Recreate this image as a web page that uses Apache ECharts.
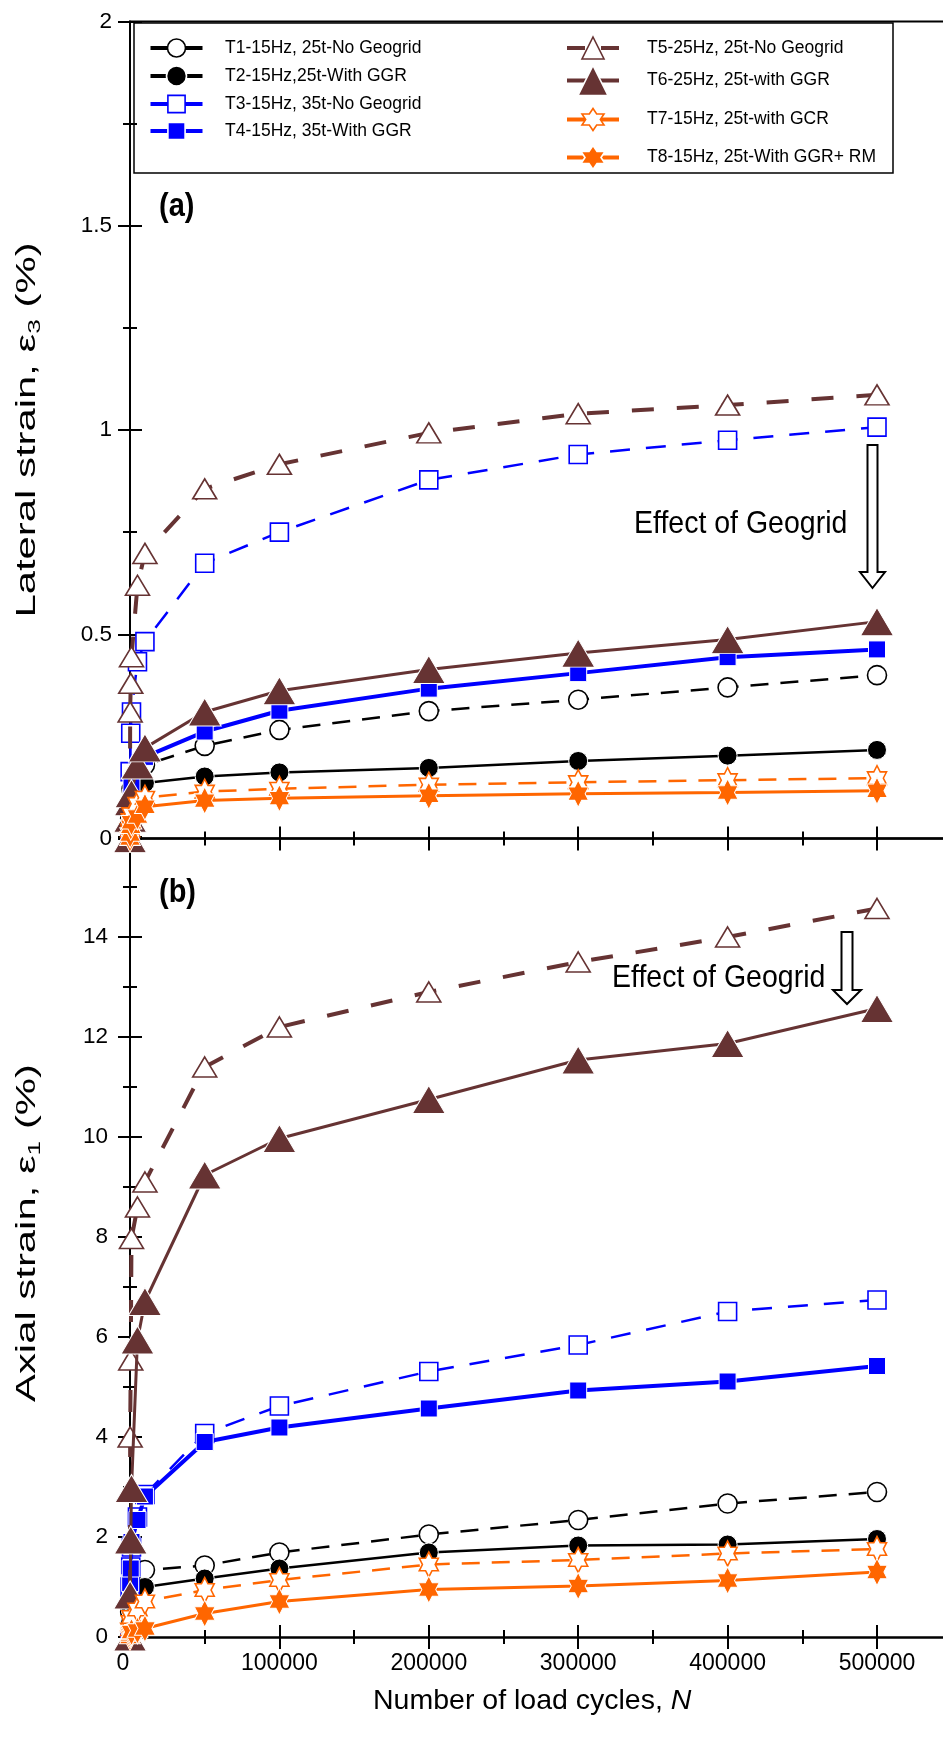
<!DOCTYPE html>
<html>
<head>
<meta charset="utf-8">
<script src="https://cdn.jsdelivr.net/npm/echarts@6/dist/echarts.min.js"></script>
<style>
  html, body { margin: 0; padding: 0; background: #ffffff; overflow: hidden; }
  /* the x axis runs on past the right edge of the page */
  #chart { width: 1100px; height: 1749px; }
</style>
</head>
<body>
<div id="chart"></div>
<script>
// Number of load cycles at which strains were recorded
const cycles = [0, 100, 500, 1000, 5000, 10000, 50000, 100000, 200000, 300000, 400000, 500000];

// Lateral strain, eps3 (%)
const latT1 = [0, 0.05, 0.09, 0.12, 0.16, 0.18, 0.227, 0.266, 0.312, 0.34, 0.37, 0.40];
const latT2 = [0, 0.04, 0.07, 0.09, 0.12, 0.136, 0.152, 0.162, 0.173, 0.19, 0.203, 0.217];
const latT3 = [0, 0.164, 0.258, 0.31, 0.433, 0.482, 0.674, 0.75, 0.878, 0.94, 0.975, 1.007];
const latT4 = [0, 0.06, 0.10, 0.13, 0.17, 0.20, 0.262, 0.313, 0.367, 0.405, 0.444, 0.463];
const latT5 = [0, 0.31, 0.38, 0.445, 0.62, 0.698, 0.856, 0.916, 0.993, 1.04, 1.061, 1.086];
const latT6 = [0, 0.05, 0.09, 0.11, 0.18, 0.222, 0.31, 0.362, 0.414, 0.454, 0.487, 0.531];
const latT7 = [0, 0.02, 0.045, 0.06, 0.085, 0.10, 0.115, 0.122, 0.132, 0.138, 0.143, 0.148];
const latT8 = [0, 0.01, 0.029, 0.04, 0.054, 0.078, 0.093, 0.099, 0.105, 0.11, 0.113, 0.117];

// Axial strain, eps1 (%)
const axT1 = [0, 0.5, 0.8, 1.0, 1.2, 1.34, 1.43, 1.69, 2.05, 2.34, 2.67, 2.9];
const axT2 = [0, 0.3, 0.55, 0.7, 0.85, 1.0, 1.17, 1.37, 1.69, 1.83, 1.85, 1.96];
const axT3 = [0, 1.0, 1.4, 1.8, 2.4, 2.85, 4.07, 4.62, 5.31, 5.84, 6.51, 6.74];
const axT4 = [0, 1.08, 1.37, 1.9, 2.34, 2.81, 3.9, 4.19, 4.57, 4.93, 5.11, 5.42];
const axT5 = [0, 4.0, 5.54, 7.97, 8.6, 9.1, 11.4, 12.2, 12.9, 13.5, 14.0, 14.57];
const axT6 = [0, 0.84, 1.94, 2.97, 5.94, 6.71, 9.24, 9.97, 10.75, 11.54, 11.87, 12.57];
const axT7 = [0, 0.15, 0.3, 0.4, 0.55, 0.71, 0.94, 1.14, 1.45, 1.54, 1.67, 1.76];
const axT8 = [0, 0.05, 0.08, 0.1, 0.13, 0.17, 0.47, 0.71, 0.95, 1.02, 1.13, 1.3];

const testNames = [
  'T1-15Hz, 25t-No Geogrid',
  'T2-15Hz,25t-With GGR',
  'T3-15Hz, 35t-No Geogrid',
  'T4-15Hz, 35t-With GGR',
  'T5-25Hz, 25t-No Geogrid',
  'T6-25Hz, 25t-with GGR',
  'T7-15Hz, 25t-with GCR',
  'T8-15Hz, 25t-With GGR+ RM'
];

const lateral = [latT1, latT2, latT3, latT4, latT5, latT6, latT7, latT8];
const axial = [axT1, axT2, axT3, axT4, axT5, axT6, axT7, axT8];

// Styling
const FONT = "'Liberation Sans', Arial, sans-serif";
const BLACK = '#000000', BLUE = '#0000ff', BROWN = '#663333', ORANGE = '#ff6600';
const HEXAGRAM = 'path://M100 0L128.87 50L186.6 50L157.74 100L186.6 150L128.87 150L100 200L71.13 150L13.4 150L42.26 100L13.4 50L71.13 50Z';

const looks = [
  { color: BLACK,  width: 2.5, dash: [18, 12], symbol: 'circle',   size: 19,       open: true },
  { color: BLACK,  width: 2.5, dash: null,     symbol: 'circle',   size: 19,       open: false },
  { color: BLUE,   width: 2.5, dash: [20, 16], symbol: 'rect',     size: 18,       open: true },
  { color: BLUE,   width: 4,   dash: null,     symbol: 'rect',     size: 17,       open: false },
  { color: BROWN,  width: 4,   dash: [22, 23], symbol: 'triangle', size: [24, 20], open: true },
  { color: BROWN,  width: 3,   dash: null,     symbol: 'triangle', size: [33, 28], open: false },
  { color: ORANGE, width: 2.5, dash: [18, 12], symbol: HEXAGRAM,   size: [22, 25], open: true },
  { color: ORANGE, width: 3,   dash: null,     symbol: HEXAGRAM,   size: [24, 27], open: false }
];

// Legend entry placement: column, row centre (px) and icon box height
const legendSlots = [
  { col: 0, cy: 48,    h: 22.5 },
  { col: 0, cy: 76,    h: 25 },
  { col: 0, cy: 104,   h: 21.5 },
  { col: 0, cy: 131,   h: 21.5 },
  { col: 1, cy: 48,    h: 27.5 },
  { col: 1, cy: 80.5,  h: 37.5 },
  { col: 1, cy: 119.5, h: 27.5 },
  { col: 1, cy: 157.5, h: 30 }
];
const legendCols = [ { left: 148.5, pad: 17.5 }, { left: 565, pad: 23 } ];

function makeSeries(values, i, axisIndex) {
  const lk = looks[i];
  return {
    type: 'line',
    name: testNames[i],
    xAxisIndex: axisIndex,
    yAxisIndex: axisIndex,
    data: cycles.map((n, k) => [n, values[k]]),
    symbol: lk.symbol,
    symbolSize: lk.size,
    symbolKeepAspect: true,
    showAllSymbol: true,
    clip: false,
    animation: false,
    lineStyle: { color: lk.color, width: lk.width, type: lk.dash || 'solid' },
    itemStyle: lk.open
      ? { color: '#ffffff', borderColor: lk.color, borderWidth: 1.6 }
      : { color: lk.color, borderColor: '#ffffff', borderWidth: 1 },
    emphasis: { disabled: true },
    z: 2 + i
  };
}

const series = [];
lateral.forEach((v, i) => series.push(makeSeries(v, i, 0)));
axial.forEach((v, i) => series.push(makeSeries(v, i, 2)));

// Each axis is a pair: the main one (line, outward ticks, labels) and a twin with inward ticks,
// so that the ticks cross the axis line
const tickStyle = { color: '#000', width: 2 };
function xPair(grid, showLabels) {
  const base = { type: 'value', gridIndex: grid, min: 0, max: 600000, interval: 100000, position: 'bottom', splitLine: { show: false } };
  return [
    Object.assign({}, base, {
      axisLine: { show: true, onZero: false, lineStyle: { color: '#000', width: 2.5 } },
      axisTick: { show: true, inside: false, length: 12, lineStyle: tickStyle },
      minorTick: { show: true, splitNumber: 2, length: 7, lineStyle: tickStyle },
      axisLabel: {
        show: showLabels, color: '#000', fontSize: 23, fontFamily: FONT, margin: 15,
        formatter: v => (v > 500000 ? '' : v === 0 ? '{z|0}' : String(v)),
        rich: { z: { fontSize: 23, fontFamily: FONT, color: '#000', padding: [0, 14, 0, 0] } }
      },
      name: showLabels ? 'Number of load cycles, {i|N}' : '',
      nameLocation: 'middle',
      nameGap: 50,
      nameTextStyle: {
        color: '#000', fontSize: 28.5, fontFamily: FONT, padding: [0, 92, 0, 0],
        rich: { i: { fontStyle: 'italic', fontSize: 28.5, fontFamily: FONT, color: '#000' } }
      }
    }),
    Object.assign({}, base, {
      axisLine: { show: false, onZero: false },
      axisTick: { show: true, inside: true, length: 12, lineStyle: tickStyle },
      minorTick: { show: true, splitNumber: 2, length: 7, lineStyle: tickStyle },
      axisLabel: { show: false }
    })
  ];
}
function yPair(grid, max, interval, hideTop, labelMargin) {
  const base = { type: 'value', gridIndex: grid, min: 0, max: max, interval: interval, position: 'left', splitLine: { show: false } };
  return [
    Object.assign({}, base, {
      axisLine: { show: true, onZero: false, lineStyle: { color: '#000', width: 2 } },
      axisTick: { show: true, inside: false, length: 12, lineStyle: tickStyle },
      minorTick: { show: true, splitNumber: 2, length: 7, lineStyle: tickStyle },
      axisLabel: {
        color: '#000', fontSize: 22.5, fontFamily: FONT, margin: labelMargin,
        formatter: v => (hideTop && v === max ? '' : String(v))
      }
    }),
    Object.assign({}, base, {
      axisLine: { show: false, onZero: false },
      axisTick: { show: true, inside: true, length: 12, lineStyle: tickStyle },
      minorTick: { show: true, splitNumber: 2, length: 7, lineStyle: tickStyle },
      axisLabel: { show: false }
    })
  ];
}

// Rotated, lengthwise-stretched axis title with a subscript
function yTitle(cy, main, sub) {
  return {
    type: 'text', x: 28, y: cy, rotation: Math.PI / 2, scaleX: 1.55, z: 50,
    style: {
      text: '{n|' + main + '}{s|' + sub + '}{n| (%)}',
      align: 'center', verticalAlign: 'middle',
      rich: {
        n: { fontSize: 27, fontFamily: FONT, fill: '#000', lineHeight: 32, verticalAlign: 'middle' },
        s: { fontSize: 17, fontFamily: FONT, fill: '#000', lineHeight: 22, verticalAlign: 'bottom' }
      }
    }
  };
}

// Hollow block arrow pointing down
function downArrow(cx, top, headStart, tip, shaftW, headW) {
  return {
    type: 'polygon',
    shape: { points: [
      [cx - shaftW / 2, top], [cx + shaftW / 2, top], [cx + shaftW / 2, headStart],
      [cx + headW / 2, headStart], [cx, tip], [cx - headW / 2, headStart], [cx - shaftW / 2, headStart]
    ] },
    style: { fill: '#ffffff', stroke: '#000000', lineWidth: 2 },
    z: 50
  };
}

// One legend component per entry so each row sits at its own height with its own icon size
const legends = testNames.map((name, i) => {
  const slot = legendSlots[i];
  const col = legendCols[slot.col];
  return {
    orient: 'vertical',
    left: col.left,
    top: slot.cy - slot.h / 2,
    itemWidth: 52,
    itemHeight: slot.h,
    padding: 0,
    selectedMode: false,
    lineStyle: { width: 4, type: looks[i].dash ? [18, 16] : 'solid' },
    itemStyle: { borderWidth: 1.6 },
    textStyle: { color: '#000', fontSize: 17.5, fontFamily: FONT, lineHeight: slot.h, padding: [0, 0, 0, col.pad] },
    data: [name]
  };
});

const option = {
  backgroundColor: '#ffffff',
  animation: false,
  grid: [
    { left: 130, top: 21.4, width: 896.4, height: 817.2, show: true, borderColor: '#000', borderWidth: 2, backgroundColor: 'transparent' },
    { left: 130, top: 837, width: 896.4, height: 800 }
  ],
  xAxis: [].concat(xPair(0, false), xPair(1, true)),
  yAxis: [].concat(yPair(0, 2, 0.5, false, 18), yPair(1, 16, 2, true, 22)),
  legend: legends,
  graphic: [
    { type: 'rect', shape: { x: 134, y: 23, width: 759, height: 150 }, style: { fill: 'none', stroke: '#000', lineWidth: 1.5 }, z: 40 },
    { type: 'text', x: 159, y: 207, scaleY: 1.12, style: { text: '(a)', fontSize: 29, fontWeight: 'bold', fontFamily: FONT, fill: '#000', verticalAlign: 'middle' }, z: 50 },
    { type: 'text', x: 159, y: 893, scaleY: 1.12, style: { text: '(b)', fontSize: 29, fontWeight: 'bold', fontFamily: FONT, fill: '#000', verticalAlign: 'middle' }, z: 50 },
    { type: 'text', x: 634, y: 524, scaleY: 1.1, style: { text: 'Effect of Geogrid', fontSize: 28.5, fontFamily: FONT, fill: '#000', verticalAlign: 'middle' }, z: 50 },
    { type: 'text', x: 612, y: 978, scaleY: 1.1, style: { text: 'Effect of Geogrid', fontSize: 28.5, fontFamily: FONT, fill: '#000', verticalAlign: 'middle' }, z: 50 },
    yTitle(430, 'Lateral strain, ε', '3'),
    yTitle(1233, 'Axial strain, ε', '1'),
    downArrow(872.5, 445, 572, 588, 10, 25),
    downArrow(847, 932, 990, 1004, 11, 28)
  ],
  series: series
};

const chart = echarts.init(document.getElementById('chart'), null, { renderer: 'canvas' });
chart.setOption(option);
</script>
</body>
</html>
